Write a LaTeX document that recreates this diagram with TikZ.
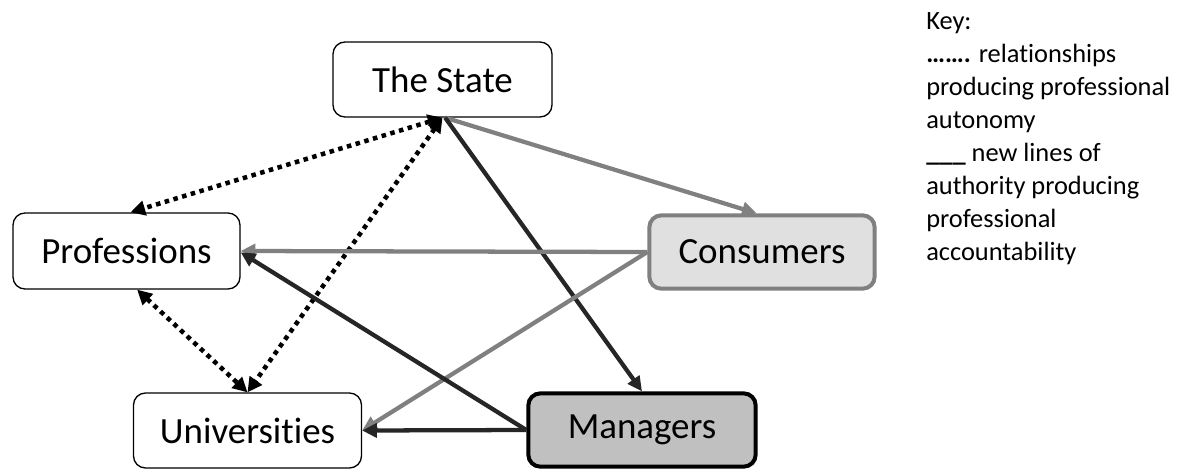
\documentclass[tikz,border=0pt]{standalone}
\usepackage{fontspec}
\setmainfont[Ligatures={NoCommon}]{Carlito}
\usetikzlibrary{arrows.meta}
\definecolor{lgray}{HTML}{808080}
\definecolor{dgray}{HTML}{262626}
\definecolor{consfill}{HTML}{E0E0E0}
\definecolor{manfill}{HTML}{C0C0C0}
\begin{document}
\begin{tikzpicture}[x=0.75pt,y=-0.75pt,
  box/.style={rounded corners=9pt, draw=black, line width=1pt, fill=white,
    font=\fontsize{27.7pt}{33pt}\selectfont, inner sep=0pt, align=center},
  consbox/.style={box, draw=lgray, fill=consfill, line width=3pt},
  manbox/.style={box, draw=black, fill=manfill, line width=3pt},
  dotlink/.style={line width=3.4pt, black, dash pattern=on 3.4pt off 3.4pt,
    {Triangle[length=11pt,width=11pt]}-{Triangle[length=11pt,width=11pt]}},
  graylink/.style={line width=3.2pt, lgray, -{Triangle[length=11pt,width=10.5pt]}},
  darklink/.style={line width=3.2pt, dgray, -{Triangle[length=11pt,width=10.5pt]}},
  keytext/.style={font=\fontsize{19.8pt}{24.75pt}\selectfont, align=left, inner sep=0pt, anchor=base west}
]
\useasboundingbox (0,0) rectangle (1189,469);

\node[box, minimum width=164.25pt, minimum height=56.25pt] (state) at (442.5,79.5) {The State};
\node[box, minimum width=170.25pt, minimum height=57pt] (prof) at (126.5,251) {Professions};
\node[consbox, minimum width=169pt, minimum height=55pt] (cons) at (762,252) {Consumers};
\node[box, minimum width=171pt, minimum height=56.25pt] (univ) at (247.5,430.5) {Universities};
\node[manbox, minimum width=170.5pt, minimum height=55pt] (man) at (642,430) {Managers};

% dotted relationships (professional autonomy)
\draw[dotlink] (state.south) -- ([xshift=3pt]prof.north);
\draw[dotlink] (state.south) -- (univ.north);
\draw[dotlink] ([xshift=8pt]prof.south) -- (univ.north);

% new lines of authority
\draw[graylink] ([xshift=2pt]state.south) -- ([xshift=-4pt]cons.north);
\draw[darklink] ([xshift=2pt]state.south) -- (man.north);
\draw[graylink] (cons.west) -- (prof.east);
\draw[graylink] (cons.west) -- (univ.east);
\draw[darklink] (man.west) -- ([yshift=-1pt]prof.east);
\draw[darklink] (man.west) -- (univ.east);

\node[keytext] (key) at (926,260) {Key:\\
\textbf{…….} relationships\\
producing professional\\
autonomy\\
\textbf{\_\_\_} new lines of\\
authority producing\\
professional\\
accountability};
\end{tikzpicture}
\end{document}
